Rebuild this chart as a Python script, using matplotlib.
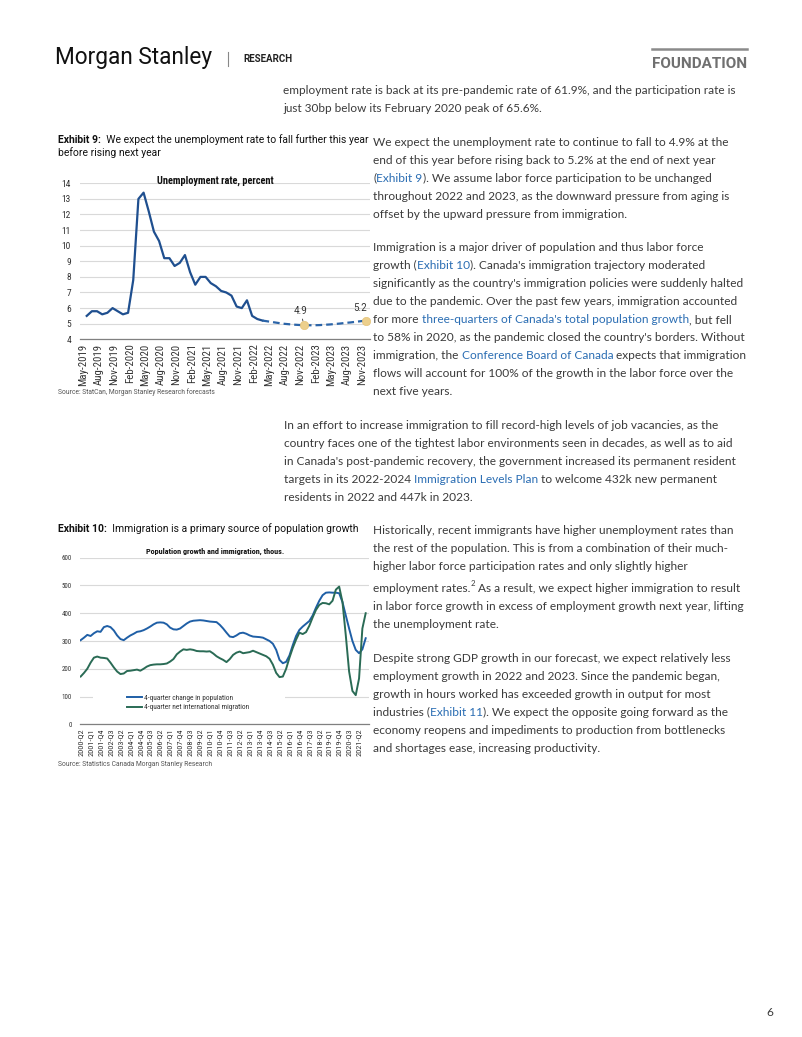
import re
import numpy as np
import pandas as pd
import matplotlib
matplotlib.use("Agg")
import matplotlib.pyplot as plt
from matplotlib import font_manager as fm
from matplotlib.lines import Line2D
from matplotlib.patches import Rectangle

# ---------------- data ----------------
ue_start = "2019-06"
ue_actual = [5.5, 5.8, 5.8, 5.6, 5.7, 6.0, 5.8, 5.6, 5.7, 7.8, 13.0, 13.4, 12.2, 10.9,
             10.3, 9.2, 9.2, 8.7, 8.9, 9.4, 8.3, 7.5, 8.0, 8.0, 7.6, 7.4, 7.1, 7.0,
             6.8, 6.1, 6.0, 6.5, 5.5, 5.3, 5.2]
ue_forecast = [5.15, 5.1, 5.05, 5.0, 4.97, 4.94, 4.92, 4.9, 4.9, 4.9, 4.91, 4.93,
               4.95, 4.98, 5.01, 5.05, 5.08, 5.12, 5.16, 5.2]
ue_callout_months = ["2022-12", "2023-12"]
ue_tick_labels = ["May-2019", "Aug-2019", "Nov-2019", "Feb-2020", "May-2020", "Aug-2020",
                  "Nov-2020", "Feb-2021", "May-2021", "Aug-2021", "Nov-2021", "Feb-2022",
                  "May-2022", "Aug-2022", "Nov-2022", "Feb-2023", "May-2023", "Aug-2023",
                  "Nov-2023"]
ue_yticks = [4, 5, 6, 7, 8, 9, 10, 11, 12, 13, 14]

pop_start = "2000Q2"
pop_change = [303, 312, 322, 318, 328, 335, 333, 350, 354, 350, 338, 320, 307, 303, 312,
              320, 326, 333, 335, 339, 345, 352, 360, 366, 367, 366, 360, 348, 342, 341,
              345, 354, 363, 370, 373, 374, 375, 374, 372, 370, 369, 368, 358, 345, 330,
              316, 314, 320, 328, 330, 326, 320, 316, 315, 314, 312, 306, 300, 290, 268,
              232, 220, 225, 248, 285, 318, 340, 352, 362, 372, 392, 420, 445, 465, 474,
              475, 474, 474, 472, 440, 392, 345, 300, 268, 256, 270, 310]
net_migration = [172, 185, 200, 222, 240, 244, 240, 239, 237, 222, 205, 190, 181, 183, 192,
                 193, 195, 197, 193, 200, 208, 213, 215, 216, 216, 217, 219, 226, 235, 252,
                 262, 270, 268, 270, 268, 264, 263, 263, 262, 263, 255, 245, 238, 232, 224,
                 235, 250, 258, 262, 256, 258, 260, 265, 260, 255, 250, 245, 236, 215, 185,
                 170, 172, 200, 240, 275, 305, 330, 325, 332, 355, 385, 412, 430, 437, 436,
                 432, 445, 485, 496, 440, 320, 190, 120, 105, 165, 345, 400]
pop_series_names = ["4-quarter change in population", "4-quarter net international migration"]
pop_yticks = [0, 100, 200, 300, 400, 500, 600]

# ---------------- page text ----------------
top_lines = ["employment rate is back at its pre-pandemic rate of 61.9%, and the participation rate is",
             "just 30bp below its February 2020 peak of 65.6%."]
para1 = ["We expect the unemployment rate to continue to fall to 4.9% at the",
         "end of this year before rising back to 5.2% at the end of next year",
         "([Exhibit 9]). We assume labor force participation to be unchanged",
         "throughout 2022 and 2023, as the downward pressure from aging is",
         "offset by the upward pressure from immigration."]
para2 = ["Immigration is a major driver of population and thus labor force",
         "growth ([Exhibit 10]). Canada's immigration trajectory moderated",
         "significantly as the country's immigration policies were suddenly halted",
         "due to the pandemic. Over the past few years, immigration accounted",
         "for more [three-quarters of Canada's total population growth], but fell",
         "to 58% in 2020, as the pandemic closed the country's borders. Without",
         "immigration, the [Conference Board of Canada] expects that immigration",
         "flows will account for 100% of the growth in the labor force over the",
         "next five years."]
para3 = ["In an effort to increase immigration to fill record-high levels of job vacancies, as the",
         "country faces one of the tightest labor environments seen in decades, as well as to aid",
         "in Canada's post-pandemic recovery, the government increased its permanent resident",
         "targets in its 2022-2024 [Immigration Levels Plan] to welcome 432k new permanent",
         "residents in 2022 and 447k in 2023."]
para4 = ["Historically, recent immigrants have higher unemployment rates than",
         "the rest of the population. This is from a combination of their much-",
         "higher labor force participation rates and only slightly higher",
         "employment rates.{2} As a result, we expect higher immigration to result",
         "in labor force growth in excess of employment growth next year, lifting",
         "the unemployment rate."]
para5 = ["Despite strong GDP growth in our forecast, we expect relatively less",
         "employment growth in 2022 and 2023. Since the pandemic began,",
         "growth in hours worked has exceeded growth in output for most",
         "industries ([Exhibit 11]). We expect the opposite going forward as the",
         "economy reopens and impediments to production from bottlenecks",
         "and shortages ease, increasing productivity."]
ex9_title = ["Exhibit 9:", "  We expect the unemployment rate to fall further this year", "before rising next year"]
ex10_title = ["Exhibit 10:", "  Immigration is a primary source of population growth"]
ex9_chart_title = "Unemployment rate, percent"
ex10_chart_title = "Population growth and immigration, thous."
ex9_source = "Source: StatCan, Morgan Stanley Research forecasts"
ex10_source = "Source: Statistics Canada Morgan Stanley Research"


# ---------------- fonts ----------------
def pick(*names):
    for n in names:
        try:
            fm.findfont(fm.FontProperties(family=n), fallback_to_default=False)
            return n
        except Exception:
            continue
    return "DejaVu Sans"


NARROW = pick("Liberation Sans Narrow", "Roboto Condensed", "Roboto")
SANS = pick("Roboto", "Liberation Sans")
BODY = pick("Lato", "Open Sans", "Noto Sans")

TEXT = "#3b3b3b"
LINK = "#2a6db3"
BLUE1 = "#1f4f8f"
BLUE2 = "#2b64a8"
POPBLUE = "#1f5fa6"
POPGREEN = "#2a6b55"
GRID = "#d9d9d9"

W, H = 802, 1037
fig = plt.figure(figsize=(W / 100, H / 100), dpi=100)
fig.patch.set_facecolor("white")
R = fig.canvas.get_renderer()


def fx(x):
    return x / W


def fy(y):
    return 1 - y / H


def text_w(s, size, **kw):
    t = fig.text(0, 0, s, fontsize=size, **kw)
    w = t.get_window_extent(renderer=R).width
    t.remove()
    return w


def fit(s, target, **kw):
    return 10.0 * target / text_w(s, 10.0, **kw)


def adv(s, size, **kw):
    return text_w(s + "|", size, **kw) - text_w("|", size, **kw)


def draw_rich(x, y, line, size, family):
    parts = re.split(r'(\[[^\]]*\]|\{[^}]*\})', line)
    cx = x
    for p in parts:
        if not p:
            continue
        if p.startswith('['):
            s, c, sz, dy = p[1:-1], LINK, size, 0
        elif p.startswith('{'):
            s, c, sz, dy = p[1:-1], TEXT, size * 0.65, -5.5
        else:
            s, c, sz, dy = p, TEXT, size, 0
        fig.text(fx(cx), fy(y + dy), s, fontsize=sz, family=family, color=c,
                 va='baseline', ha='left')
        cx += adv(s, sz, family=family)


body_size = fit(para3[0], 433, family=BODY)
top_size = fit(top_lines[0], 452, family=BODY)


def draw_para(x, y0, lines, size, step=18.0):
    extra = 0.0
    for i, ln in enumerate(lines):
        if '{' in ln:
            extra = 3.7
        draw_rich(x, y0 + i * step + extra + 4.0, ln, size, BODY)


# ---------------- header ----------------
ms = fit("Morgan Stanley", 157, family=SANS)
fig.text(fx(55), fy(64), "Morgan Stanley", fontsize=ms, family=SANS,
         color="#111111", va='baseline', ha='left')
fig.add_artist(Line2D([fx(228), fx(228)], [fy(52), fy(66)], color="#888888", lw=0.8))
rs = fit("RESEARCH", 49, family=SANS, weight='bold')
fig.text(fx(243), fy(62), "RESEARCH", fontsize=rs, family=SANS, weight='bold',
         color="#222222", va='baseline', ha='left')
fs = fit("FOUNDATION", 95, family=SANS, weight='bold')
fig.text(fx(652), fy(67.5), "FOUNDATION", fontsize=fs, family=SANS, weight='bold',
         color="#707070", va='baseline', ha='left')
fig.add_artist(Line2D([fx(652), fx(747)], [fy(48.5), fy(48.5)], color="#8a8a8a", lw=1.8))

# ---------------- body ----------------
draw_para(283, 90, top_lines, top_size)
draw_para(373.3, 141.7, para1, body_size)
draw_para(373.3, 247.0, para2, body_size)
draw_para(284, 425.0, para3, body_size)
draw_para(373.3, 530.0, para4, body_size)
draw_para(373.3, 657.7, para5, body_size)
fig.text(fx(770), fy(1016), "6", fontsize=body_size, family=BODY, color=TEXT,
         ha='center', va='baseline')

# ---------------- exhibit titles & sources ----------------
t_size = fit(ex9_title[0] + ex9_title[1], 310, family=SANS)
fig.text(fx(58), fy(143), ex9_title[0], fontsize=t_size, family=SANS, weight='bold',
         color="#111111", va='baseline')
xb = 58 + adv(ex9_title[0], t_size, family=SANS, weight='bold')
fig.text(fx(xb), fy(143), ex9_title[1], fontsize=t_size, family=SANS, color="#111111",
         va='baseline')
fig.text(fx(58), fy(156.5), ex9_title[2], fontsize=t_size, family=SANS, color="#111111",
         va='baseline')

fig.text(fx(58), fy(532), ex10_title[0], fontsize=t_size, family=SANS, weight='bold',
         color="#111111", va='baseline')
xb = 58 + adv(ex10_title[0], t_size, family=SANS, weight='bold')
fig.text(fx(xb), fy(532), ex10_title[1], fontsize=t_size, family=SANS, color="#111111",
         va='baseline')

src_size = fit(ex9_source, 158, family=SANS)
fig.text(fx(58.3), fy(392), ex9_source, fontsize=src_size, family=SANS, color="#555555",
         va='center')
fig.text(fx(58.3), fy(764), ex10_source, fontsize=src_size, family=SANS, color="#555555",
         va='center')

# ---------------- Exhibit 9 chart ----------------
ax1 = fig.add_axes([fx(80), fy(339.3), (370 - 80) / W, (339.3 - 183.3) / H])
start = pd.Period(ue_start, freq="M")
x_act = np.arange(len(ue_actual))
ax1.plot(x_act, ue_actual, color=BLUE1, lw=1.6, solid_joinstyle='round', zorder=3)
x_fc = np.arange(len(ue_actual) - 1, len(ue_actual) + len(ue_forecast))
ax1.plot(x_fc, [ue_actual[-1]] + ue_forecast, color=BLUE2, lw=1.6, ls=(0, (3, 1.8)), zorder=3)
for k, m in enumerate(ue_callout_months):
    idx = (pd.Period(m, freq="M") - start).n
    val = ue_forecast[idx - len(ue_actual)]
    ax1.plot([idx], [val], 'o', ms=6, color="#eccf8c", mec="#e6c47a", mew=0.5, zorder=4)
    if k == 0:
        ax1.annotate(f"{val:.1f}", xy=(idx, val), xytext=(-3, 9), textcoords='offset pixels',
                     ha='center', va='bottom', fontsize=7, family=SANS, color="#333333",
                     arrowprops=dict(arrowstyle='-', lw=0.6, color="#333333",
                                     shrinkA=0, shrinkB=3))
    else:
        ax1.annotate(f"{val:.1f}", xy=(idx, val), xytext=(-6, 8), textcoords='offset pixels',
                     ha='center', va='bottom', fontsize=7, family=SANS, color="#333333")
ax1.set_ylim(4, 14)
ax1.set_xlim(-1.3, 54.8)
ax1.set_yticks(ue_yticks)
tick_pos = [(pd.Period(pd.to_datetime(l, format="%b-%Y"), freq="M") - start).n + 0.35
            for l in ue_tick_labels]
ax1.set_xticks(tick_pos)
xs1 = fit("May-2019", 42, family=NARROW)
ys1 = fit("14", 9.3, family=NARROW)
ax1.set_xticklabels(ue_tick_labels, rotation=90, fontsize=xs1, family=NARROW, color="#333333")
ax1.set_yticklabels([str(v) for v in ue_yticks], fontsize=ys1, family=NARROW, color="#333333")
ax1.tick_params(axis='x', length=0, pad=3)
ax1.tick_params(axis='y', length=0, pad=6.5)
ax1.yaxis.grid(True, color=GRID, lw=0.8)
ax1.set_axisbelow(True)
for s in ["top", "right", "left"]:
    ax1.spines[s].set_visible(False)
ax1.spines["bottom"].set_color("#808080")
ax1.spines["bottom"].set_linewidth(0.9)
ax1.patch.set_alpha(0)
ct = fit(ex9_chart_title, 117, family=NARROW, weight='bold')
fig.text(fx(215.3), fy(180.5), ex9_chart_title, fontsize=ct, family=NARROW, weight='bold',
         color="#111111", ha='center', va='center')

# ---------------- Exhibit 10 chart ----------------
ax2 = fig.add_axes([fx(80), fy(724.3), (369 - 80) / W, (724.3 - 557.7) / H])
qstart = pd.Period(pop_start, freq="Q")
quarters = [qstart + i for i in range(len(pop_change))]
q_labels = [f"{q.year}-Q{q.quarter}" for q in quarters]
xq = np.arange(len(pop_change))
ax2.plot(xq, pop_change, color=POPBLUE, lw=1.4, label=pop_series_names[0], zorder=3)
ax2.plot(xq, net_migration, color=POPGREEN, lw=1.4, label=pop_series_names[1], zorder=3)
ax2.set_ylim(0, 600)
ax2.set_xlim(-0.2, 87.0)
ax2.set_yticks(pop_yticks)
ax2.set_xticks(xq[::3])
xs2 = fit("2000-Q2", 27, family=NARROW)
ys2 = fit("600", 10, family=NARROW)
ax2.set_xticklabels(q_labels[::3], rotation=90, fontsize=xs2, family=NARROW, color="#333333")
ax2.set_yticklabels([str(v) for v in pop_yticks], fontsize=ys2, family=NARROW, color="#333333")
ax2.tick_params(axis='x', length=0, pad=3)
ax2.tick_params(axis='y', length=0, pad=6)
ax2.yaxis.grid(True, color=GRID, lw=0.8)
ax2.set_axisbelow(True)
for s in ["top", "right", "left"]:
    ax2.spines[s].set_visible(False)
ax2.spines["bottom"].set_color("#808080")
ax2.spines["bottom"].set_linewidth(0.9)
ax2.patch.set_alpha(0)
# white backing behind the legend (hides part of the gridline as in the original)
ax2.add_patch(Rectangle((fx(93), fy(716)), (285 - 93) / W, (716 - 690) / H,
                        transform=fig.transFigure, facecolor='white', edgecolor='none',
                        zorder=2, clip_on=False))
ls_ = fit(pop_series_names[0], 89, family=NARROW)
leg = ax2.legend(loc='center left', bbox_to_anchor=(fx(127), fy(703)),
                 bbox_transform=fig.transFigure, frameon=False,
                 prop={'family': NARROW, 'size': ls_}, handlelength=2.0,
                 handletextpad=0.25, labelspacing=0.3, borderpad=0, borderaxespad=0)
leg.set_zorder(6)
for t in leg.get_texts():
    t.set_color("#333333")
ct2 = fit(ex10_chart_title, 139, family=NARROW, weight='bold')
fig.text(fx(214.7), fy(551.7), ex10_chart_title, fontsize=ct2, family=NARROW, weight='bold',
         color="#111111", ha='center', va='center')

fig.savefig("out.png", dpi=100, facecolor="white")
